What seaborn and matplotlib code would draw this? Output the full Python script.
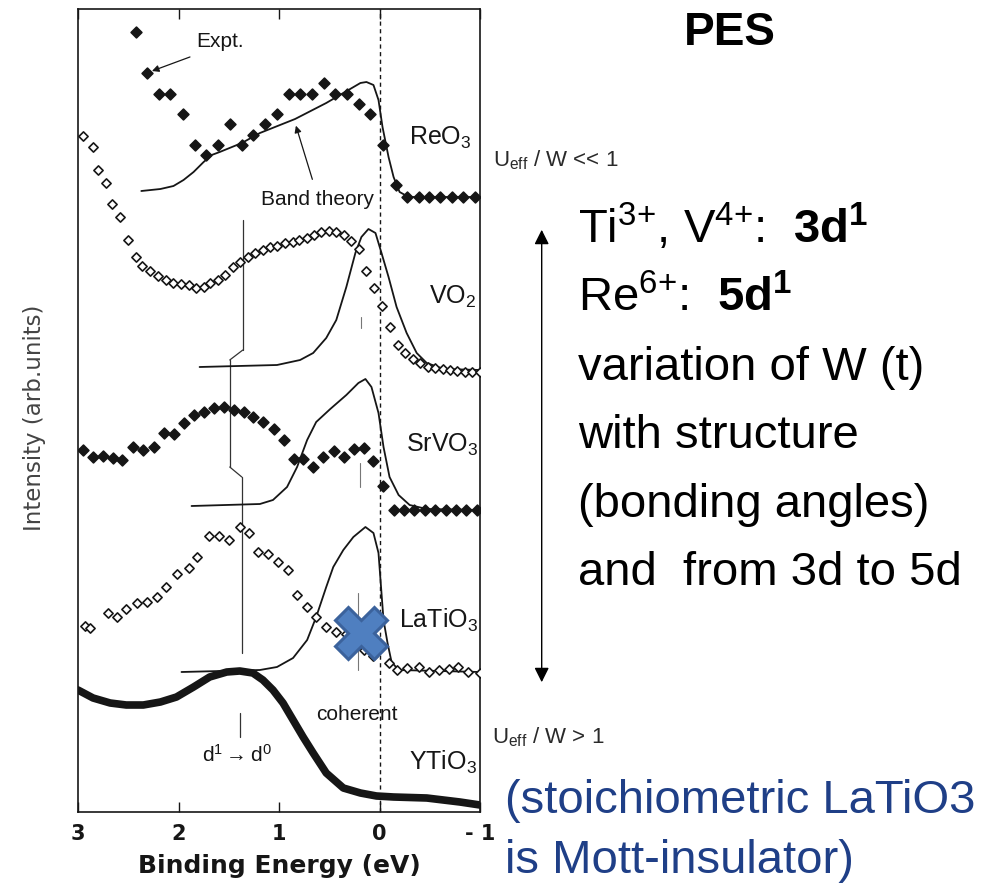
import matplotlib
matplotlib.use("Agg")
import matplotlib.pyplot as plt
import seaborn as sns
import pandas as pd

# ---------------- data (binding energy in eV, intensity in arb. units) ----------------
reo3_expt_e = [2.42, 2.31, 2.19, 2.08, 1.96, 1.84, 1.73, 1.61, 1.49, 1.37, 1.26, 1.14, 1.02,
               0.90, 0.79, 0.67, 0.55, 0.44, 0.32, 0.20, 0.09, -0.03, -0.16, -0.27, -0.39,
               -0.49, -0.60, -0.72, -0.83, -0.95]
reo3_expt_i = [7.80, 7.39, 7.18, 7.18, 6.98, 6.67, 6.57, 6.67, 6.88, 6.67, 6.77, 6.88, 6.98,
               7.18, 7.18, 7.18, 7.29, 7.18, 7.18, 7.08, 6.98, 6.67, 6.27, 6.15, 6.15,
               6.15, 6.15, 6.15, 6.15, 6.15]
reo3_calc_e = [2.37, 2.18, 2.05, 1.95, 1.85, 1.75, 1.67, 1.59, 1.37, 1.19, 0.84, 0.53, 0.36,
               0.19, 0.13, 0.06, 0.01, -0.03, -0.09, -0.14, -0.20, -0.29, -1.00]
reo3_calc_i = [6.21, 6.23, 6.26, 6.32, 6.40, 6.50, 6.57, 6.60, 6.69, 6.79, 6.93, 7.09, 7.19,
               7.29, 7.30, 7.27, 7.12, 6.85, 6.55, 6.35, 6.20, 6.15, 6.15]

vo2_expt_e = [2.95, 2.85, 2.80, 2.72, 2.66, 2.58, 2.50, 2.42, 2.36, 2.28, 2.20, 2.12, 2.05, 1.98,
              1.90, 1.83, 1.75, 1.69, 1.61, 1.54, 1.46, 1.39, 1.31, 1.24, 1.16, 1.09, 1.02, 0.94,
              0.86, 0.80, 0.72, 0.65, 0.58, 0.50, 0.43, 0.35, 0.28, 0.20, 0.13, 0.05, -0.02,
              -0.10, -0.18, -0.25, -0.33, -0.40, -0.48, -0.55, -0.63, -0.70, -0.77, -0.85, -0.92, -1.00]
vo2_expt_i = [6.76, 6.65, 6.42, 6.29, 6.08, 5.95, 5.72, 5.55, 5.46, 5.41, 5.36, 5.32, 5.29, 5.28,
              5.27, 5.24, 5.25, 5.29, 5.32, 5.37, 5.45, 5.50, 5.55, 5.59, 5.62, 5.65, 5.66, 5.69,
              5.70, 5.72, 5.74, 5.77, 5.80, 5.81, 5.80, 5.77, 5.71, 5.63, 5.41, 5.24, 5.06,
              4.85, 4.67, 4.59, 4.53, 4.49, 4.45, 4.44, 4.43, 4.42, 4.41, 4.40, 4.40, 4.40]
vo2_calc_e = [1.79, 1.02, 0.79, 0.66, 0.53, 0.43, 0.33, 0.24, 0.18, 0.11, 0.04, -0.02, -0.09,
              -0.17, -0.27, -0.37, -0.47, -0.64, -1.00]
vo2_calc_i = [4.45, 4.47, 4.52, 4.59, 4.74, 4.92, 5.25, 5.59, 5.75, 5.83, 5.79, 5.59, 5.35,
              5.05, 4.79, 4.59, 4.49, 4.43, 4.42]

srvo3_expt_e = [2.95, 2.85, 2.75, 2.65, 2.56, 2.45, 2.35, 2.24, 2.14, 2.04, 1.95, 1.85, 1.75, 1.65,
                1.55, 1.45, 1.35, 1.26, 1.16, 1.05, 0.95, 0.85, 0.76, 0.66, 0.56, 0.45, 0.35, 0.25,
                0.15, 0.06, -0.03, -0.14, -0.24, -0.34, -0.45, -0.55, -0.66, -0.76, -0.86, -0.97]
srvo3_expt_i = [3.62, 3.55, 3.56, 3.54, 3.52, 3.65, 3.62, 3.65, 3.79, 3.78, 3.89, 3.97, 4.00, 4.04,
                4.05, 4.02, 4.00, 3.95, 3.90, 3.83, 3.72, 3.53, 3.53, 3.45, 3.55, 3.61, 3.55, 3.63,
                3.64, 3.51, 3.26, 3.02, 3.02, 3.02, 3.02, 3.02, 3.02, 3.02, 3.02, 3.02]
srvo3_calc_e = [1.87, 1.19, 1.06, 0.92, 0.82, 0.72, 0.63, 0.49, 0.33, 0.21, 0.14, 0.08, 0.01,
                -0.04, -0.10, -0.19, -0.30, -0.47, -1.00]
srvo3_calc_i = [3.06, 3.08, 3.12, 3.25, 3.45, 3.72, 3.90, 4.03, 4.17, 4.29, 4.33, 4.25, 3.99,
                3.65, 3.35, 3.17, 3.07, 3.03, 3.02]

latio3_expt_e = [2.93, 2.88, 2.70, 2.61, 2.52, 2.41, 2.31, 2.21, 2.12, 2.01, 1.90, 1.82, 1.70, 1.60,
                 1.50, 1.39, 1.30, 1.21, 1.11, 1.01, 0.91, 0.82, 0.72, 0.63, 0.53, 0.43, 0.33, 0.24,
                 0.15, 0.06, -0.09, -0.17, -0.27, -0.39, -0.49, -0.59, -0.69, -0.78, -0.88, -1.00]
latio3_expt_i = [1.86, 1.84, 1.99, 1.95, 2.03, 2.09, 2.10, 2.15, 2.25, 2.38, 2.44, 2.55, 2.76, 2.76,
                 2.72, 2.85, 2.79, 2.60, 2.58, 2.50, 2.42, 2.17, 2.05, 1.95, 1.85, 1.80, 1.78, 1.70,
                 1.62, 1.56, 1.49, 1.42, 1.44, 1.45, 1.40, 1.42, 1.43, 1.45, 1.40, 1.39]
latio3_calc_e = [1.97, 1.19, 1.02, 0.86, 0.72, 0.63, 0.53, 0.46, 0.36, 0.26, 0.14, 0.06, 0.01,
                 -0.01, -0.04, -0.08, -0.12, -0.19, -1.00]
latio3_calc_i = [1.40, 1.42, 1.45, 1.54, 1.72, 1.95, 2.25, 2.45, 2.62, 2.75, 2.85, 2.79, 2.59,
                 2.32, 1.92, 1.69, 1.50, 1.42, 1.40]

ytio3_expt_e = [3.00, 2.85, 2.68, 2.52, 2.35, 2.18, 2.02, 1.85, 1.69, 1.52, 1.39, 1.26, 1.16, 1.06,
                0.96, 0.86, 0.76, 0.66, 0.53, 0.36, 0.19, 0.03, -0.14, -0.47, -0.80, -1.00]
ytio3_expt_i = [1.22, 1.14, 1.09, 1.07, 1.07, 1.10, 1.15, 1.25, 1.35, 1.40, 1.41, 1.39, 1.32, 1.22,
                1.09, 0.92, 0.75, 0.59, 0.39, 0.24, 0.19, 0.16, 0.15, 0.14, 0.10, 0.07]

labels = ["ReO$_3$", "VO$_2$", "SrVO$_3$", "LaTiO$_3$", "YTiO$_3$"]
label_e = [-0.60, -0.73, -0.62, -0.59, -0.63]
label_i = [6.74, 5.15, 3.67, 1.92, 0.50]

tick_values = [3, 2, 1, 0, -1]
tick_labels = ["3", "2", "1", "0", "- 1"]

notes = [
    r"Ti$^{3{+}}$, V$^{4{+}}$:  $\mathbf{3d^1}$",
    r"Re$^{6{+}}$:  $\mathbf{5d^1}$",
    "variation of W (t)",
    "with structure",
    "(bonding angles)",
    "and  from 3d to 5d",
]

# ---------------- styling ----------------
sns.set_theme(style="white")
plt.rcParams["font.family"] = ["Liberation Sans", "DejaVu Sans"]
plt.rcParams["mathtext.fontset"] = "custom"
plt.rcParams["mathtext.rm"] = "Liberation Sans"
plt.rcParams["mathtext.it"] = "Liberation Sans:italic"
plt.rcParams["mathtext.bf"] = "Liberation Sans:bold"

INK = "#161616"

fig = plt.figure(figsize=(9.84, 8.85), dpi=100)
ax = fig.add_axes([78 / 984, 73 / 885, 402 / 984, 803 / 885])

def frame(e, i):
    return pd.DataFrame({"E": e, "I": i})

# band-theory curves
for e, i in [(reo3_calc_e, reo3_calc_i), (vo2_calc_e, vo2_calc_i),
             (srvo3_calc_e, srvo3_calc_i), (latio3_calc_e, latio3_calc_i)]:
    sns.lineplot(data=frame(e, i), x="E", y="I", sort=False, color=INK, lw=1.3, ax=ax)

# experimental spectra: filled and open diamonds
for e, i, face, size in [(reo3_expt_e, reo3_expt_i, INK, 30), (srvo3_expt_e, srvo3_expt_i, INK, 30),
                         (vo2_expt_e, vo2_expt_i, "white", 22), (latio3_expt_e, latio3_expt_i, "white", 22)]:
    sns.scatterplot(data=frame(e, i), x="E", y="I", marker="D", s=size, color=face,
                    edgecolor=INK, linewidth=1.2, zorder=3, ax=ax)

# YTiO3: densely sampled spectrum drawn as a heavy trace
sns.lineplot(data=frame(ytio3_expt_e, ytio3_expt_i), x="E", y="I", sort=False,
             color=INK, lw=5.5, solid_capstyle="round", ax=ax)

# Fermi level and guide marks
ax.axvline(0, color=INK, lw=1.0, ls=(0, (3, 2.5)), zorder=1)
for (e0, e1, i0, i1) in [(1.36, 1.36, 5.92, 4.62), (1.36, 1.49, 4.62, 4.52), (1.49, 1.49, 4.52, 3.45),
                         (1.49, 1.37, 3.45, 3.35), (1.37, 1.37, 3.35, 1.59), (1.39, 1.39, 0.99, 0.75)]:
    ax.plot([e0, e1], [i0, i1], color="#333333", lw=0.9, zorder=1)
for (e0, i0, i1) in [(0.18, 4.95, 4.84), (0.19, 3.49, 3.25), (0.21, 2.19, 1.42)]:
    ax.plot([e0, e0], [i0, i1], color="#777777", lw=0.8, zorder=1)

# compound labels
for t, e, i in zip(labels, label_e, label_i):
    ax.text(e, i, t, fontsize=18, color=INK, ha="center", va="center")

ax.text(1.59, 7.70, "Expt.", fontsize=15, color=INK, ha="center", va="center")
ax.annotate("", xy=(2.29, 7.40), xytext=(1.86, 7.56),
            arrowprops=dict(arrowstyle="-|>", color=INK, lw=0.9, mutation_scale=10))
ax.text(0.62, 6.12, "Band theory", fontsize=15, color=INK, ha="center", va="center")
ax.annotate("", xy=(0.84, 6.89), xytext=(0.66, 6.30),
            arrowprops=dict(arrowstyle="-|>", color=INK, lw=0.9, mutation_scale=10))
ax.text(0.23, 0.97, "coherent", fontsize=15, color=INK, ha="center", va="center")
ax.text(1.42, 0.57, r"d$^1$$\rightarrow$d$^0$", fontsize=15, color=INK, ha="center", va="center")

# highlight cross on the LaTiO3 spectrum
ax.plot([0.18], [1.79], marker="X", ms=37, mfc="#4f7fc0", mec="#3b629c", mew=2.2, zorder=5)

# axes
ax.set_xlim(3, -1)
ax.set_ylim(0, 8.03)
ax.set_xticks(tick_values)
ax.set_xticklabels(tick_labels, fontsize=15, fontweight="bold", family="DejaVu Sans", color=INK)
ax.set_yticks([])
ax.tick_params(axis="x", direction="in", top=True, bottom=True, length=7, width=1.0,
               color=INK, pad=9)
for s in ax.spines.values():
    s.set_visible(True)
    s.set_color(INK)
    s.set_linewidth(1.2)
ax.set_xlabel("Binding Energy (eV)", fontsize=18, fontweight="bold", family="DejaVu Sans",
              color=INK, labelpad=7)
ax.set_ylabel("")
fig.text(35 / 984, 1 - 418 / 885, "Intensity (arb.units)", rotation=90, fontsize=16.5,
         family="DejaVu Sans", color="#444444", ha="center", va="center")

# right-hand commentary
fig.text(730 / 984, 1 - 45 / 885, "PES", fontsize=33, fontweight="bold", color="black",
         ha="center", va="baseline")
fig.text(493 / 984, 1 - 166 / 885, r"U$_{\mathrm{eff}}$ / W << 1", fontsize=16, color="#2a2a2a",
         ha="left", va="baseline")
fig.text(492 / 984, 1 - 743 / 885, r"U$_{\mathrm{eff}}$ / W > 1", fontsize=16, color="#2a2a2a",
         ha="left", va="baseline")
baselines = [243, 311, 380, 448, 517, 585]
for t, b in zip(notes, baselines):
    fig.text(578 / 984, 1 - b / 885, t, fontsize=34, color="black", ha="left", va="baseline")
fig.text(505 / 984, 1 - 813 / 885, "(stoichiometric LaTiO3", fontsize=34, color="#1f3f87",
         ha="left", va="baseline")
fig.text(505 / 984, 1 - 873 / 885, "is Mott-insulator)", fontsize=34, color="#1f3f87",
         ha="left", va="baseline")

# double-headed arrow beside the commentary
fig.add_artist(matplotlib.patches.FancyArrowPatch(
    (541.7 / 984, 1 - 227 / 885), (541.7 / 984, 1 - 685 / 885), transform=fig.transFigure,
    arrowstyle="<|-|>", mutation_scale=22, lw=1.0, color="black"))

fig.savefig("out.png", dpi=100)
